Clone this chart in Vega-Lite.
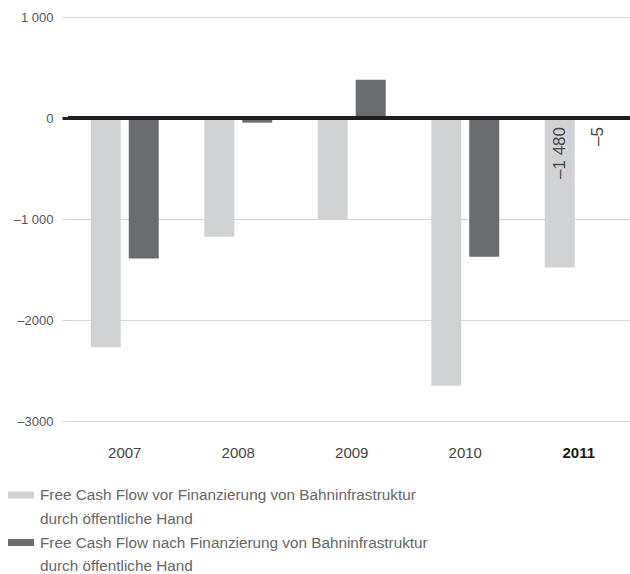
{
  "$schema": "https://vega.github.io/schema/vega-lite/v6.json",
  "autosize": {"type": "none"},
  "padding": {"left": 68, "top": 17, "right": 0, "bottom": 153},
  "width": 562,
  "height": 404,
  "background": "white",
  "config": {
    "view": {"stroke": null},
    "font": "Liberation Sans"
  },
  "data": {
    "values": [
      {"year": "2007", "series": "Free Cash Flow vor Finanzierung von Bahninfrastruktur durch öffentliche Hand", "value": -2271},
      {"year": "2007", "series": "Free Cash Flow nach Finanzierung von Bahninfrastruktur durch öffentliche Hand", "value": -1390},
      {"year": "2008", "series": "Free Cash Flow vor Finanzierung von Bahninfrastruktur durch öffentliche Hand", "value": -1176},
      {"year": "2008", "series": "Free Cash Flow nach Finanzierung von Bahninfrastruktur durch öffentliche Hand", "value": -46},
      {"year": "2009", "series": "Free Cash Flow vor Finanzierung von Bahninfrastruktur durch öffentliche Hand", "value": -1003},
      {"year": "2009", "series": "Free Cash Flow nach Finanzierung von Bahninfrastruktur durch öffentliche Hand", "value": 378},
      {"year": "2010", "series": "Free Cash Flow vor Finanzierung von Bahninfrastruktur durch öffentliche Hand", "value": -2650},
      {"year": "2010", "series": "Free Cash Flow nach Finanzierung von Bahninfrastruktur durch öffentliche Hand", "value": -1373},
      {"year": "2011", "series": "Free Cash Flow vor Finanzierung von Bahninfrastruktur durch öffentliche Hand", "value": -1480},
      {"year": "2011", "series": "Free Cash Flow nach Finanzierung von Bahninfrastruktur durch öffentliche Hand", "value": -5}
    ]
  },
  "encoding": {
    "x": {
      "field": "year", "type": "nominal",
      "scale": {"paddingInner": 0.401, "paddingOuter": 0.2005, "range": [0, 567.5]},
      "axis": {
        "title": null, "domain": false, "ticks": false, "labelAngle": 0,
        "labelFontSize": 15, "labelPadding": 24,
        "labelColor": {"condition": {"test": "datum.label == '2011'", "value": "#1a1a1a"}, "value": "#444444"},
        "labelFontWeight": {"condition": {"test": "datum.label == '2011'", "value": "bold"}, "value": "normal"}
      }
    },
    "xOffset": {
      "field": "series", "type": "nominal",
      "sort": ["Free Cash Flow vor Finanzierung von Bahninfrastruktur durch öffentliche Hand", "Free Cash Flow nach Finanzierung von Bahninfrastruktur durch öffentliche Hand"],
      "scale": {"paddingInner": 0.21, "paddingOuter": 0}
    }
  },
  "layer": [
    {
      "mark": {"type": "bar"},
      "encoding": {
        "y": {
          "field": "value", "type": "quantitative",
          "scale": {"domain": [-3000, 1000], "nice": false, "zero": false},
          "axis": {
            "title": null, "domain": false, "values": [-3000, -2000, -1000, 0, 1000],
            "grid": true, "gridColor": "#d4d5d7", "gridWidth": 1,
            "tickSize": 6, "tickColor": {"condition": {"test": "datum.value === 0", "value": "#231f20"}, "value": "#d4d5d7"},
            "tickWidth": {"condition": {"test": "datum.value === 0", "value": 3}, "value": 1},
            "labelFontSize": 13, "labelColor": "#555555", "labelPadding": 9,
            "labelExpr": "datum.value <= -2000 ? '–' + format(abs(datum.value), 'd') : (datum.value < 0 ? '–' : '') + replace(format(abs(datum.value), ','), ',', ' ')"
          }
        },
        "color": {
          "field": "series", "type": "nominal",
          "scale": {
            "domain": ["Free Cash Flow vor Finanzierung von Bahninfrastruktur durch öffentliche Hand", "Free Cash Flow nach Finanzierung von Bahninfrastruktur durch öffentliche Hand"],
            "range": ["#d1d2d4", "#6b6c70"]
          },
          "legend": {
            "title": null, "orient": "none", "legendX": -60, "legendY": 465,
            "direction": "vertical",
            "symbolType": "M-1,-0.27H1V0.27H-1Z", "symbolSize": 676, "symbolStrokeWidth": 0,
            "labelFontSize": 15.3, "labelColor": "#666666", "labelOffset": 6, "labelLimit": 600,
            "rowPadding": 2.5,
            "labelExpr": "split(replace(datum.label, ' durch ', '|durch '), '|')",
            "encode": {"labels": {"update": {"lineHeight": {"value": 23.5}}}}
          }
        }
      }
    },
    {
      "mark": {"type": "rule", "color": "#231f20", "strokeWidth": 3},
      "encoding": {"y": {"datum": 0, "type": "quantitative"}, "x": null, "xOffset": null}
    },
    {
      "transform": [
        {"filter": "datum.year == '2011'"},
        {"calculate": "(datum.value < 0 ? '–' : '') + replace(format(abs(datum.value), ','), ',', ' ')", "as": "label"}
      ],
      "mark": {"type": "text", "angle": 270, "align": "right", "baseline": "middle", "dx": -9, "fontSize": 17, "color": "#444444"},
      "encoding": {
        "y": {"datum": 0, "type": "quantitative"},
        "text": {"field": "label"}
      }
    }
  ]
}
